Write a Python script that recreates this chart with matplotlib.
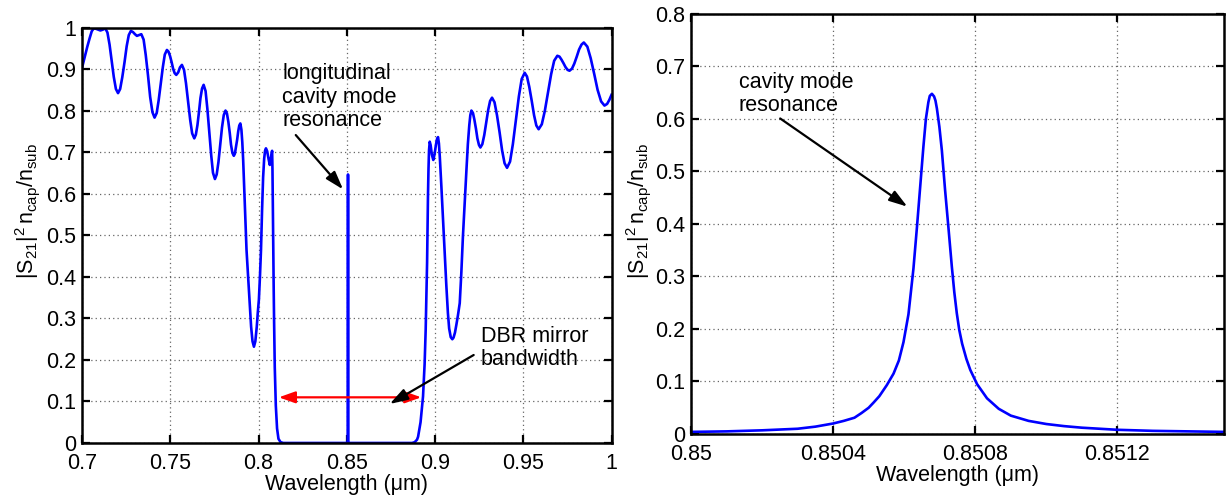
import matplotlib
matplotlib.use("Agg")
import matplotlib.pyplot as plt
from matplotlib.ticker import FixedLocator, FixedFormatter

plt.rcParams['font.family'] = ['Liberation Sans', 'DejaVu Sans']
plt.rcParams['mathtext.fontset'] = 'custom'
plt.rcParams['mathtext.rm'] = 'Liberation Sans'
plt.rcParams['mathtext.it'] = 'Liberation Sans:italic'
plt.rcParams['font.size'] = 15.5

# full spectrum, 0.7 - 1.0 um (stop band in the middle, cavity line at 0.8507)
wl_full = [
    0.7000, 0.7015, 0.7030, 0.7043, 0.7055, 0.7066, 0.7079, 0.7091, 0.7104, 0.7118,
    0.7132, 0.7144, 0.7156, 0.7168, 0.7180, 0.7192, 0.7204, 0.7216, 0.7228, 0.7241,
    0.7253, 0.7265, 0.7277, 0.7289, 0.7300, 0.7311, 0.7324, 0.7336, 0.7349, 0.7361,
    0.7374, 0.7386, 0.7399, 0.7411, 0.7423, 0.7434, 0.7446, 0.7458, 0.7469, 0.7481,
    0.7490, 0.7499, 0.7508, 0.7516, 0.7525, 0.7534, 0.7545, 0.7555, 0.7566, 0.7578,
    0.7589, 0.7601, 0.7613, 0.7624, 0.7636, 0.7645, 0.7654, 0.7663, 0.7671, 0.7680,
    0.7689, 0.7700, 0.7710, 0.7721, 0.7732, 0.7742, 0.7753, 0.7763, 0.7773, 0.7783,
    0.7793, 0.7803, 0.7813, 0.7821, 0.7829, 0.7837, 0.7844, 0.7852, 0.7860, 0.7866,
    0.7872, 0.7879, 0.7885, 0.7891, 0.7897, 0.7903, 0.7908, 0.7913, 0.7922, 0.7932,
    0.7942, 0.7951, 0.7958, 0.7966, 0.7974, 0.7982, 0.7990, 0.7996, 0.8002, 0.8008,
    0.8014, 0.8020, 0.8026, 0.8032, 0.8037, 0.8042, 0.8049, 0.8057, 0.8064, 0.8070,
    0.8077, 0.8079, 0.8081, 0.8083, 0.8086, 0.8088, 0.8092, 0.8098, 0.8105, 0.8113,
    0.8125, 0.8140, 0.8506, 0.8507, 0.8508, 0.8870, 0.8885, 0.8898, 0.8904, 0.8918,
    0.8932, 0.8941, 0.8947, 0.8955, 0.8960, 0.8963, 0.8966, 0.8970, 0.8975, 0.8982,
    0.8990, 0.8997, 0.9005, 0.9011, 0.9017, 0.9022, 0.9027, 0.9036, 0.9045, 0.9055,
    0.9064, 0.9073, 0.9080, 0.9089, 0.9098, 0.9105, 0.9113, 0.9121, 0.9130, 0.9140,
    0.9149, 0.9158, 0.9168, 0.9178, 0.9186, 0.9194, 0.9200, 0.9206, 0.9215, 0.9223,
    0.9232, 0.9240, 0.9249, 0.9257, 0.9268, 0.9279, 0.9290, 0.9301, 0.9312, 0.9323,
    0.9337, 0.9351, 0.9366, 0.9380, 0.9394, 0.9408, 0.9425, 0.9441, 0.9458, 0.9475,
    0.9491, 0.9508, 0.9521, 0.9534, 0.9548, 0.9561, 0.9574, 0.9587, 0.9605, 0.9622,
    0.9640, 0.9658, 0.9675, 0.9693, 0.9705, 0.9716, 0.9728, 0.9739, 0.9751, 0.9762,
    0.9776, 0.9789, 0.9803, 0.9816, 0.9830, 0.9843, 0.9863, 0.9882, 0.9902, 0.9921,
    0.9941, 0.9960, 0.9975, 0.9988, 1.0000,
]
s21_full = [
    0.904, 0.930, 0.955, 0.975, 0.992, 0.999, 0.998, 0.996, 0.994, 0.996,
    0.999, 0.989, 0.960, 0.921, 0.882, 0.853, 0.843, 0.853, 0.881, 0.918,
    0.956, 0.983, 0.993, 0.990, 0.985, 0.981, 0.983, 0.985, 0.972, 0.935,
    0.885, 0.834, 0.797, 0.784, 0.795, 0.825, 0.866, 0.906, 0.936, 0.947,
    0.943, 0.932, 0.917, 0.902, 0.891, 0.887, 0.893, 0.905, 0.911, 0.899,
    0.867, 0.823, 0.778, 0.746, 0.734, 0.743, 0.766, 0.799, 0.831, 0.854,
    0.863, 0.848, 0.806, 0.750, 0.693, 0.651, 0.636, 0.647, 0.677, 0.719,
    0.760, 0.790, 0.801, 0.794, 0.774, 0.747, 0.719, 0.699, 0.692, 0.697,
    0.712, 0.731, 0.751, 0.765, 0.770, 0.755, 0.725, 0.682, 0.580, 0.465,
    0.395, 0.335, 0.280, 0.245, 0.232, 0.245, 0.280, 0.315, 0.345, 0.400,
    0.465, 0.560, 0.640, 0.685, 0.704, 0.710, 0.703, 0.684, 0.670, 0.685,
    0.704, 0.660, 0.570, 0.465, 0.370, 0.300, 0.183, 0.090, 0.035, 0.010,
    0.002, 0.000, 0.000, 0.647, 0.000, 0.000, 0.002, 0.008, 0.015, 0.050,
    0.112, 0.190, 0.272, 0.434, 0.593, 0.660, 0.705, 0.726, 0.718, 0.695,
    0.682, 0.695, 0.718, 0.732, 0.737, 0.722, 0.690, 0.618, 0.540, 0.458,
    0.380, 0.313, 0.276, 0.255, 0.250, 0.254, 0.266, 0.285, 0.308, 0.337,
    0.410, 0.497, 0.580, 0.658, 0.720, 0.765, 0.790, 0.801, 0.795, 0.779,
    0.757, 0.734, 0.718, 0.712, 0.720, 0.742, 0.772, 0.802, 0.824, 0.832,
    0.821, 0.790, 0.748, 0.705, 0.674, 0.663, 0.678, 0.720, 0.778, 0.835,
    0.877, 0.892, 0.883, 0.858, 0.824, 0.790, 0.765, 0.756, 0.768, 0.800,
    0.845, 0.889, 0.921, 0.933, 0.931, 0.924, 0.915, 0.906, 0.899, 0.897,
    0.902, 0.914, 0.931, 0.948, 0.960, 0.965, 0.955, 0.927, 0.889, 0.851,
    0.823, 0.813, 0.817, 0.827, 0.839,
]

# zoom on the cavity resonance
wl_zoom = [
    0.85000, 0.85010, 0.85020, 0.85030, 0.85035, 0.85040, 0.85043, 0.85046, 0.85048, 0.85050,
    0.850514, 0.85053, 0.850551, 0.85057, 0.850585, 0.850598, 0.850612, 0.850626, 0.850636, 0.850645,
    0.850654, 0.850661, 0.850668, 0.850672, 0.850678, 0.850684, 0.850688, 0.850692, 0.850699, 0.850706,
    0.850715, 0.850725, 0.850734, 0.850741, 0.850748, 0.850755, 0.850763, 0.850775, 0.850786, 0.850805,
    0.850833, 0.850866, 0.85090, 0.85095, 0.85100, 0.85105, 0.85110, 0.85120, 0.85130, 0.85140,
    0.85150,
]
s21_zoom = [
    0.004, 0.005, 0.007, 0.010, 0.014, 0.020, 0.025, 0.031, 0.040, 0.050,
    0.060, 0.072, 0.093, 0.115, 0.140, 0.175, 0.228, 0.315, 0.395, 0.471,
    0.547, 0.600, 0.632, 0.644, 0.648, 0.643, 0.635, 0.620, 0.585, 0.540,
    0.465, 0.389, 0.319, 0.270, 0.230, 0.198, 0.172, 0.143, 0.122, 0.095,
    0.068, 0.048, 0.035, 0.025, 0.019, 0.015, 0.012, 0.008, 0.006, 0.005,
    0.004,
]

full_xticks = [0.7, 0.75, 0.8, 0.85, 0.9, 0.95, 1.0]
full_xlabels = ['0.7', '0.75', '0.8', '0.85', '0.9', '0.95', '1']
full_yticks = [0, 0.1, 0.2, 0.3, 0.4, 0.5, 0.6, 0.7, 0.8, 0.9, 1.0]
full_ylabels = ['0', '0.1', '0.2', '0.3', '0.4', '0.5', '0.6', '0.7', '0.8', '0.9', '1']
zoom_xticks = [0.85, 0.8504, 0.8508, 0.8512]
zoom_xlabels = ['0.85', '0.8504', '0.8508', '0.8512']
zoom_yticks = [0, 0.1, 0.2, 0.3, 0.4, 0.5, 0.6, 0.7, 0.8]
zoom_ylabels = ['0', '0.1', '0.2', '0.3', '0.4', '0.5', '0.6', '0.7', '0.8']

ylab = r'$|\mathrm{S}_{21}|^{2}\,\mathrm{n}_{\mathrm{cap}}/\mathrm{n}_{\mathrm{sub}}$'
BLUE = (0, 0, 1)
black_head = '-|>,head_length=0.5,head_width=0.16'
red_head = '<|-|>,head_length=0.45,head_width=0.16'


def style_axes(ax, xt, xl, yt, yl):
    ax.xaxis.set_major_locator(FixedLocator(xt))
    ax.xaxis.set_major_formatter(FixedFormatter(xl))
    ax.yaxis.set_major_locator(FixedLocator(yt))
    ax.yaxis.set_major_formatter(FixedFormatter(yl))
    ax.tick_params(direction='in', length=6, width=1.6, top=True, right=True)
    ax.tick_params(axis='x', pad=7)
    ax.tick_params(axis='y', pad=4)
    for sp in ax.spines.values():
        sp.set_linewidth(1.8)
    ax.grid(True, linestyle=(0, (1, 2.5)), color='0.4', linewidth=0.9)
    ax.set_axisbelow(True)


def arrow(ax, tip, tail, style=black_head, color='k'):
    ax.annotate('', xy=tip, xytext=tail,
                arrowprops=dict(arrowstyle=style, color=color, lw=1.6,
                                mutation_scale=22, shrinkA=0, shrinkB=0))


fig = plt.figure(figsize=(12.26, 4.96), dpi=100)
ax1 = fig.add_axes([0.0669, 0.1069, 0.4319, 0.8367])
ax2 = fig.add_axes([0.5636, 0.1250, 0.4348, 0.8468])

# left: whole DBR spectrum
ax1.plot(wl_full, s21_full, color=BLUE, linewidth=1.9, solid_joinstyle='round')
ax1.set_xlim(0.7, 1.0)
ax1.set_ylim(0, 1)
style_axes(ax1, full_xticks, full_xlabels, full_yticks, full_ylabels)
ax1.set_xlabel('Wavelength (μm)', labelpad=0)
ax1.set_ylabel(ylab)
ax1.yaxis.set_label_coords(-0.0755, 0.56)

ax1.text(0.8135, 0.915, 'longitudinal\ncavity mode\nresonance', va='top', ha='left',
         linespacing=1.15)
arrow(ax1, (0.8479, 0.611), (0.8211, 0.742))
arrow(ax1, (0.8115, 0.11), (0.8922, 0.11), style=red_head, color=(1, 0, 0))
ax1.text(0.9258, 0.282, 'DBR mirror\nbandwidth', va='top', ha='left', linespacing=1.15)
arrow(ax1, (0.8743, 0.094), (0.9219, 0.212))

# right: cavity mode close-up
ax2.plot(wl_zoom, s21_zoom, color=BLUE, linewidth=1.9, solid_joinstyle='round')
ax2.set_xlim(0.85, 0.8515)
ax2.set_ylim(0, 0.8)
style_axes(ax2, zoom_xticks, zoom_xlabels, zoom_yticks, zoom_ylabels)
ax2.set_xlabel('Wavelength (μm)', labelpad=0)
ax2.set_ylabel(ylab)
ax2.yaxis.set_label_coords(-0.071, 0.53)

ax2.text(0.850135, 0.69, 'cavity mode\nresonance', va='top', ha='left', linespacing=1.15)
arrow(ax2, (0.850609, 0.433), (0.850251, 0.601))

fig.savefig('out.png', dpi=100)
